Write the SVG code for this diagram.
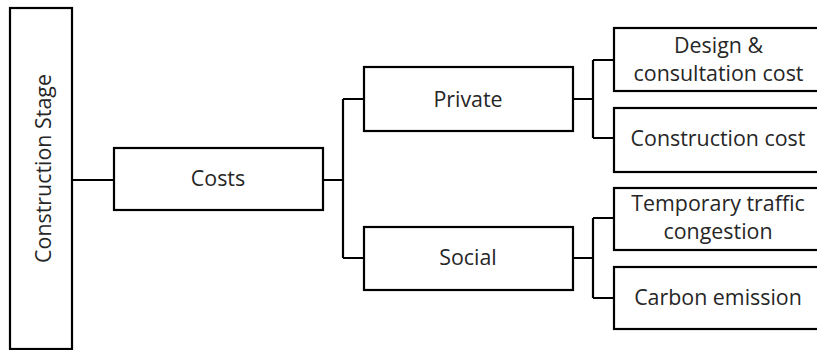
<svg xmlns="http://www.w3.org/2000/svg" width="817" height="350" viewBox="0 0 817 350">
<style>
.box{fill:#fff;stroke:#000;stroke-width:2.2}
.ln{fill:none;stroke:#000;stroke-width:2.2}
text{font-family:"Open Sans","Noto Sans",sans-serif;font-size:21.4px;fill:#262626;text-anchor:middle}
</style>
<rect width="817" height="350" fill="#fff"/>
<g id="connectors">
<path class="ln" d="M72,180 H114"/>
<path class="ln" d="M323,180 H343 M343,99 V258 M343,99 H364 M343,258 H364"/>
<path class="ln" d="M573,99 H593 M593,60 V138 M593,60 H614 M593,138 H614"/>
<path class="ln" d="M573,258 H593 M593,218 V298 M593,218 H614 M593,298 H614"/>
</g>
<g id="stage"><rect class="box" x="10" y="8" width="62" height="341"/><text transform="translate(50.5,168.5) rotate(-90)">Construction Stage</text></g>
<g id="costs"><rect class="box" x="114" y="148" width="209" height="62"/><text x="218" y="186">Costs</text></g>
<g id="private"><rect class="box" x="364" y="67" width="209" height="64"/><text x="468" y="106.5">Private</text></g>
<g id="social"><rect class="box" x="364" y="227" width="209" height="63"/><text x="468" y="265">Social</text></g>
<g id="design"><rect class="box" x="614" y="28" width="215" height="63"/><text x="718.5" y="52.5">Design &amp;</text><text x="718.5" y="80.5">consultation cost</text></g>
<g id="construction"><rect class="box" x="614" y="108" width="215" height="64"/><text x="718" y="146">Construction cost</text></g>
<g id="traffic"><rect class="box" x="614" y="188" width="215" height="62"/><text x="718" y="211">Temporary traffic</text><text x="718" y="239">congestion</text></g>
<g id="carbon"><rect class="box" x="614" y="267" width="215" height="62"/><text x="718" y="305">Carbon emission</text></g>
</svg>
